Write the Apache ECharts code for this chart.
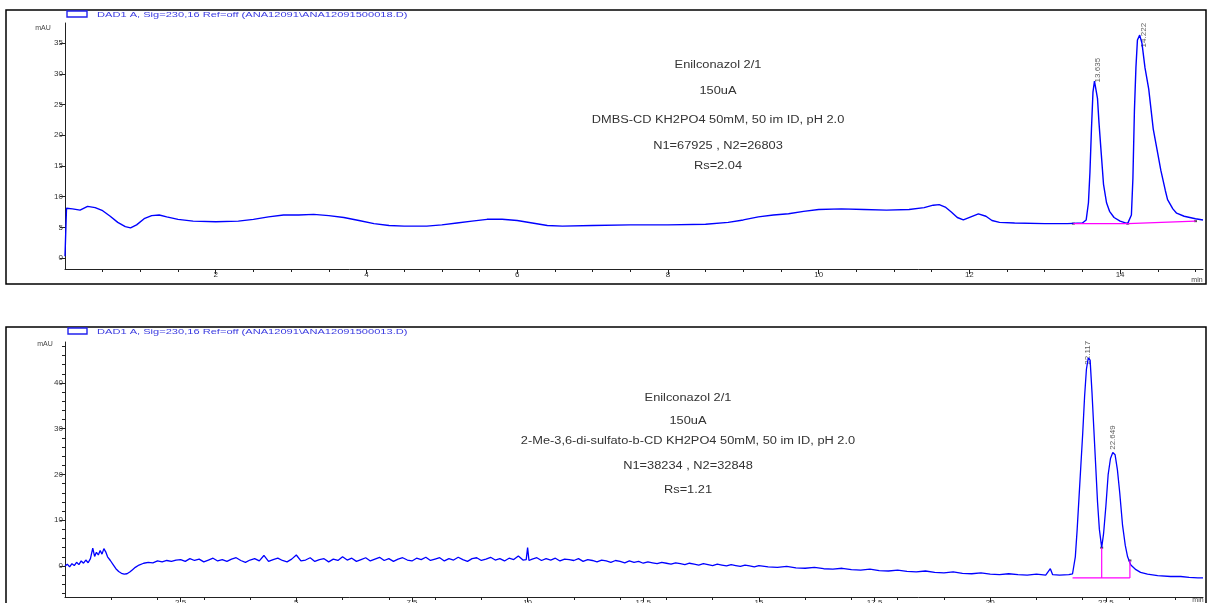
<!DOCTYPE html>
<html><head><meta charset="utf-8">
<script src="https://cdn.jsdelivr.net/npm/echarts@6/dist/echarts.min.js"></script>
<style>html,body{margin:0;padding:0;background:#fff}#c{width:1208px;height:603px}</style>
</head><body><div id="c"></div>
<script>
// ---------- TOP CHROMATOGRAM ----------
const topTrace = [[0,0.3],[0.02,8.1],[0.1,8.0],[0.2,7.8],[0.3,8.4],[0.4,8.2],[0.5,7.7],[0.6,6.8],[0.7,5.8],[0.8,5.1],[0.87,4.9],[0.95,5.4],[1.05,6.4],[1.15,6.9],[1.25,7.0],[1.35,6.7],[1.5,6.3],[1.7,6.0],[2.0,5.9],[2.3,6.0],[2.5,6.3],[2.7,6.7],[2.9,7.0],[3.1,7.0],[3.3,7.1],[3.5,6.9],[3.7,6.6],[3.9,6.1],[4.1,5.6],[4.3,5.3],[4.5,5.2],[4.8,5.2],[5.0,5.4],[5.2,5.7],[5.4,6.0],[5.6,6.3],[5.8,6.3],[6.0,6.1],[6.2,5.7],[6.4,5.3],[6.6,5.2],[7.0,5.3],[7.5,5.4],[8.0,5.4],[8.5,5.5],[8.8,5.8],[9.0,6.2],[9.2,6.7],[9.4,7.0],[9.6,7.2],[9.8,7.6],[10.0,7.9],[10.3,8.0],[10.6,7.9],[10.9,7.8],[11.2,7.9],[11.4,8.2],[11.52,8.6],[11.6,8.7],[11.68,8.3],[11.76,7.5],[11.84,6.6],[11.92,6.2],[12.02,6.7],[12.12,7.2],[12.22,6.8],[12.3,6.1],[12.4,5.8],[12.6,5.7],[13.0,5.6],[13.3,5.6],[13.5,5.7],[13.55,6.2],[13.58,9],[13.6,14],[13.62,21],[13.64,27],[13.66,28.8],[13.68,28.5],[13.7,26],[13.72,22],[13.75,17],[13.78,12],[13.82,9],[13.86,7.6],[13.92,6.6],[14.0,6.0],[14.1,5.6],[14.12,5.7],[14.15,7],[14.17,13],[14.19,24],[14.21,31],[14.23,35.5],[14.26,36.3],[14.29,35],[14.33,31],[14.38,27.5],[14.44,21],[14.5,17],[14.54,14.3],[14.6,11],[14.63,9.5],[14.7,8],[14.75,7.3],[14.85,6.8],[15.0,6.4],[15.1,6.2]];
const topBaseline1 = [[13.38,5.6],[14.1,5.6]];
const topBaseline2 = [[14.1,5.6],[15.0,6.0]];
const topBaseMarks = [[13.38,5.6],[14.1,5.6],[15.0,6.0]];
const topPeakNames = ['13.635','14.222'];
const topPeakPos = [[13.7,28.6],[14.31,34.3]];
const topXTicks = [2,4,6,8,10,12,14];
const topXMinor = [0.5,1,1.5,2.5,3,3.5,4.5,5,5.5,6.5,7,7.5,8.5,9,9.5,10.5,11,11.5,12.5,13,13.5,14.5,15];
const topYTicks = [0,5,10,15,20,25,30,35];
const topNotes = ['Enilconazol 2/1','150uA','DMBS-CD KH2PO4 50mM, 50 im ID, pH 2.0','N1=67925 , N2=26803','Rs=2.04'];
const topLegend = 'DAD1 A, Sig=230,16 Ref=off (ANA12091\\ANA12091500018.D)';

// ---------- BOTTOM CHROMATOGRAM ----------
const botTrace = [[0,0.0],[0.05,0.4],[0.1,-0.2],[0.15,0.5],[0.2,0.1],[0.25,0.8],[0.3,0.3],[0.35,1.1],[0.4,0.6],[0.45,1.3],[0.5,0.7],[0.55,1.6],[0.6,3.9],[0.64,2.1],[0.68,3.0],[0.72,2.4],[0.76,3.4],[0.8,2.6],[0.84,3.8],[0.88,3.1],[0.92,2.0],[0.98,1.2],[1.04,0.3],[1.1,-0.6],[1.16,-1.2],[1.22,-1.6],[1.28,-1.8],[1.34,-1.7],[1.4,-1.3],[1.46,-0.8],[1.52,-0.3],[1.6,0.2],[1.7,0.6],[1.8,0.8],[1.9,0.7],[2.0,1.1],[2.1,0.9],[2.2,1.2],[2.3,1.0],[2.4,1.3],
[2.5,1.4],[2.6,1.0],[2.7,1.6],[2.8,1.2],[2.9,1.5],[3.0,0.9],[3.1,1.3],[3.2,1.7],[3.3,1.1],[3.4,1.4],[3.5,1.0],[3.6,1.5],[3.7,1.8],[3.8,1.2],[3.9,0.8],[4.0,1.3],[4.1,1.6],[4.2,1.1],[4.3,2.3],[4.4,1.0],[4.5,1.4],[4.6,1.7],[4.7,1.2],[4.8,0.9],[4.9,1.5],[5.0,2.4],[5.1,1.1],[5.2,1.3],[5.3,1.8],[5.4,1.0],[5.5,1.4],[5.6,1.6],[5.7,0.9],[5.8,1.5],[5.9,1.2],[6.0,2.0],[6.1,1.3],[6.2,1.7],[6.3,1.0],[6.4,1.4],[6.5,1.8],[6.6,1.1],[6.7,1.5],[6.8,1.9],[6.9,1.2],[7.0,1.6],[7.1,1.0],[7.2,1.5],[7.3,1.8],[7.4,1.3],[7.5,1.1],[7.6,1.7],[7.7,1.4],[7.8,1.9],[7.9,1.2],[8.0,1.5],[8.1,1.8],[8.2,1.1],[8.3,1.6],[8.4,1.3],[8.5,1.9],[8.6,1.4],[8.7,1.0],[8.8,1.6],[8.9,1.8],[9.0,1.2],[9.1,1.5],[9.2,1.9],[9.3,1.3],[9.4,1.6],[9.5,1.1],[9.6,1.7],[9.7,1.4],[9.8,2.2],[9.9,1.3],[9.97,1.4],[10.0,4.0],[10.03,1.2],[10.1,1.5],[10.2,1.8],[10.3,1.2],[10.4,1.6],[10.5,1.3],[10.6,1.7],[10.7,1.1],[10.8,1.5],[10.9,1.4],[11.0,1.2],[11.1,1.6],[11.2,1.0],[11.3,1.4],[11.4,1.2],[11.5,0.9],[11.6,1.3],[11.7,1.1],[11.8,0.8],[11.9,1.2],[12.0,1.0],[12.1,0.7],[12.2,1.1],[12.3,0.8],[12.4,1.0],[12.5,0.6],[12.6,0.9],[12.7,0.7],[12.8,0.5],[12.9,0.8],[13.0,0.6],[13.1,0.4],[13.2,0.7],[13.3,0.5],[13.4,0.3],[13.5,0.6],[13.6,0.4],[13.7,0.2],[13.8,0.5],[13.9,0.3],[14.0,0.1],[14.1,0.4],[14.2,0.2],[14.3,0.0],[14.4,0.3],[14.5,0.1],[14.6,-0.1],[14.7,0.2],[14.8,0.0],[14.9,-0.2],[15.0,0.1],[15.2,-0.2],[15.4,-0.3],[15.6,-0.1],[15.8,-0.4],[16.0,-0.5],[16.2,-0.3],[16.4,-0.6],[16.6,-0.7],[16.8,-0.5],[17.0,-0.8],[17.2,-0.9],[17.4,-0.7],[17.6,-1.0],[17.8,-1.1],[18.0,-0.9],[18.2,-1.2],[18.4,-1.3],[18.6,-1.1],[18.8,-1.4],[19.0,-1.5],[19.2,-1.3],[19.4,-1.6],[19.6,-1.7],[19.8,-1.5],[20.0,-1.8],[20.2,-1.9],[20.4,-1.7],[20.6,-1.9],[20.8,-2.0],[21.0,-1.8],[21.2,-2.0],[21.3,-0.6],[21.35,-1.9],[21.5,-2.0],[21.7,-1.9],
[21.78,-1.7],[21.84,2],[21.88,8],[21.92,15],[21.96,22],[22.0,29],[22.04,37],[22.08,43],[22.12,45.5],[22.16,45],[22.2,38],[22.24,30],[22.28,22],[22.32,14],[22.36,8],[22.41,4],[22.45,7],[22.5,13],[22.55,20],[22.6,23.5],[22.65,24.8],[22.7,24.3],[22.75,21],[22.8,16],[22.86,9],[22.92,4.5],[22.97,2],[23.04,0.2],[23.15,-0.8],[23.25,-1.4],[23.4,-1.8],[23.62,-2.1],[23.9,-2.3],[24.12,-2.3],[24.3,-2.5],[24.49,-2.6],[24.6,-2.6]];
const botBaseline = [[21.78,-2.6],[23.02,-2.6]];
const botDrop1 = [[22.41,-2.6],[22.41,4]];
const botDrop2 = [[23.02,-2.6],[23.02,1.2]];
const botBaseMarks = [[22.41,4],[23.02,1.2]];
const botPeakNames = ['22.117','22.649'];
const botPeakPos = [[22.12,44.0],[22.66,25.4]];
const botXTicks = [2.5,5,7.5,10,12.5,15,17.5,20,22.5];
const botXMinor = [1,2,3,4,6,7,8,9,11,12,13,14,16,17,18,19,21,22,23,24];
const botYTicks = [0,10,20,30,40];
const botYMinor = [-6,-4,-2,2,4,6,8,12,14,16,18,22,24,26,28,32,34,36,38,42,44,46,48];
const botNotes = ['Enilconazol 2/1','150uA','2-Me-3,6-di-sulfato-b-CD KH2PO4 50mM, 50 im ID, pH 2.0','N1=38234 , N2=32848','Rs=1.21'];
const botLegend = 'DAD1 A, Sig=230,16 Ref=off (ANA12091\\ANA12091500013.D)';

const FONT = 'Liberation Sans';
const LBL = {fontSize: 8, color: '#333', fontFamily: FONT};
const AXC = '#222';

function xAxes(gi, min, max, ticks, minor) {
  return [
    {type:'value', gridIndex:gi, position:'bottom', min, max, axisLine:{show:true, onZero:false, lineStyle:{color:AXC, width:1}},
     splitLine:{show:false}, axisTick:{show:true, length:5, customValues:ticks, lineStyle:{color:AXC}},
     axisLabel:Object.assign({show:true, margin:2, customValues:ticks, formatter: v => String(v)}, LBL)},
    {type:'value', gridIndex:gi, position:'bottom', min, max, axisLine:{show:false, onZero:false}, splitLine:{show:false},
     axisTick:{show:true, length:3, customValues:minor, lineStyle:{color:AXC}}, axisLabel:{show:false}}
  ];
}
function yAxes(gi, min, max, ticks, minor) {
  const a = [{type:'value', gridIndex:gi, position:'left', min, max, axisLine:{show:true, onZero:false, lineStyle:{color:AXC, width:1}},
     splitLine:{show:false}, axisTick:{show:true, length:5, customValues:ticks, lineStyle:{color:AXC}},
     axisLabel:Object.assign({show:true, margin:2, customValues:ticks, formatter: v => String(v)}, LBL)}];
  a.push({type:'value', gridIndex:gi, position:'left', min, max, axisLine:{show:false, onZero:false}, splitLine:{show:false},
     axisTick:{show: minor.length>0, length:3, customValues:minor.length?minor:[min], lineStyle:{color:AXC}}, axisLabel:{show:false}});
  return a;
}

function notes(lines, cx, ys) {
  return lines.map((t, i) => ({type:'text', x: cx, y: ys[i], scaleX: 1.28,
    style:{text:t, fontSize:10, fontFamily:FONT, fill:'#333', align:'center', verticalAlign:'middle'}}));
}

const chart = echarts.init(document.getElementById('c'), null, {renderer:'canvas'});
const peakLabel = {show:true, position:'inside', rotate:90, align:'left', verticalAlign:'middle',
  fontSize:8, fontFamily:FONT, color:'#333', formatter: p => p.name};

chart.setOption({
  animation:false,
  backgroundColor:'#fff',
  grid:[
    {left:65, right:5, top:23, height:246, outerBoundsMode:'none'},
    {left:65, right:5, top:342, height:255, outerBoundsMode:'none'}
  ],
  xAxis:[].concat(xAxes(0, 0, 15.1, topXTicks, topXMinor), xAxes(1, 0, 24.6, botXTicks, botXMinor)),
  yAxis:[].concat(yAxes(0, -1.79, 38.27, topYTicks, []), yAxes(1, -6.78, 48.96, botYTicks, botYMinor)),
  series:[
    {type:'line', xAxisIndex:0, yAxisIndex:0, data:topTrace, showSymbol:false, symbol:'none', lineStyle:{color:'#0000ff', width:1.4}},
    {type:'line', xAxisIndex:0, yAxisIndex:0, data:topBaseline1, symbol:'none', lineStyle:{color:'#ff00ff', width:1.2}},
    {type:'line', xAxisIndex:0, yAxisIndex:0, data:topBaseline2, symbol:'none', lineStyle:{color:'#ff00ff', width:1.2}},
    {type:'scatter', xAxisIndex:0, yAxisIndex:0, data:topBaseMarks, symbol:'rect', symbolSize:[3,2], itemStyle:{color:'#222'}},
    {type:'scatter', xAxisIndex:0, yAxisIndex:0, symbolSize:0,
      data: topPeakNames.map((n,i)=>({name:n, value:topPeakPos[i]})), label:peakLabel},
    {type:'line', xAxisIndex:2, yAxisIndex:2, data:botTrace, showSymbol:false, symbol:'none', lineStyle:{color:'#0000ff', width:1.3}},
    {type:'line', xAxisIndex:2, yAxisIndex:2, data:botBaseline, symbol:'none', lineStyle:{color:'#ff00ff', width:1.2}},
    {type:'line', xAxisIndex:2, yAxisIndex:2, data:botDrop1, symbol:'none', lineStyle:{color:'#ff00ff', width:1.2}},
    {type:'line', xAxisIndex:2, yAxisIndex:2, data:botDrop2, symbol:'none', lineStyle:{color:'#ff00ff', width:1.2}},
    {type:'scatter', xAxisIndex:2, yAxisIndex:2, data:botBaseMarks, symbol:'rect', symbolSize:[3,2], itemStyle:{color:'#222'}},
    {type:'scatter', xAxisIndex:2, yAxisIndex:2, symbolSize:0,
      data: botPeakNames.map((n,i)=>({name:n, value:botPeakPos[i]})), label:peakLabel}
  ],
  graphic:[
    {type:'rect', shape:{x:6, y:10, width:1200, height:274}, style:{fill:'none', stroke:'#000', lineWidth:1.5}, silent:true},
    {type:'rect', shape:{x:6, y:327, width:1200, height:290}, style:{fill:'none', stroke:'#000', lineWidth:1.5}, silent:true},
    {type:'rect', shape:{x:67, y:11, width:20, height:6}, style:{fill:'none', stroke:'#2222ee', lineWidth:1.4}},
    {type:'rect', shape:{x:68, y:328, width:19, height:6}, style:{fill:'none', stroke:'#2222ee', lineWidth:1.4}},
    {type:'text', x:97, y:15, scaleX:1.5, style:{text:topLegend, fontSize:7.4, fontFamily:FONT, fill:'#3a3ae0', verticalAlign:'middle'}},
    {type:'text', x:97, y:332, scaleX:1.5, style:{text:botLegend, fontSize:7.4, fontFamily:FONT, fill:'#3a3ae0', verticalAlign:'middle'}},
    {type:'text', x:43, y:28, style:{text:'mAU', fontSize:7, fontFamily:FONT, fill:'#444', align:'center', verticalAlign:'middle'}},
    {type:'text', x:45, y:344, style:{text:'mAU', fontSize:7, fontFamily:FONT, fill:'#444', align:'center', verticalAlign:'middle'}},
    {type:'text', x:1197, y:280, style:{text:'min', fontSize:7, fontFamily:FONT, fill:'#444', align:'center', verticalAlign:'middle'}},
    {type:'text', x:1198, y:600, style:{text:'min', fontSize:7, fontFamily:FONT, fill:'#444', align:'center', verticalAlign:'middle'}}
  ].concat(notes(topNotes, 718, [65, 91, 120, 146, 166]), notes(botNotes, 688, [398, 421, 441, 466, 490]))
});
</script></body></html>
